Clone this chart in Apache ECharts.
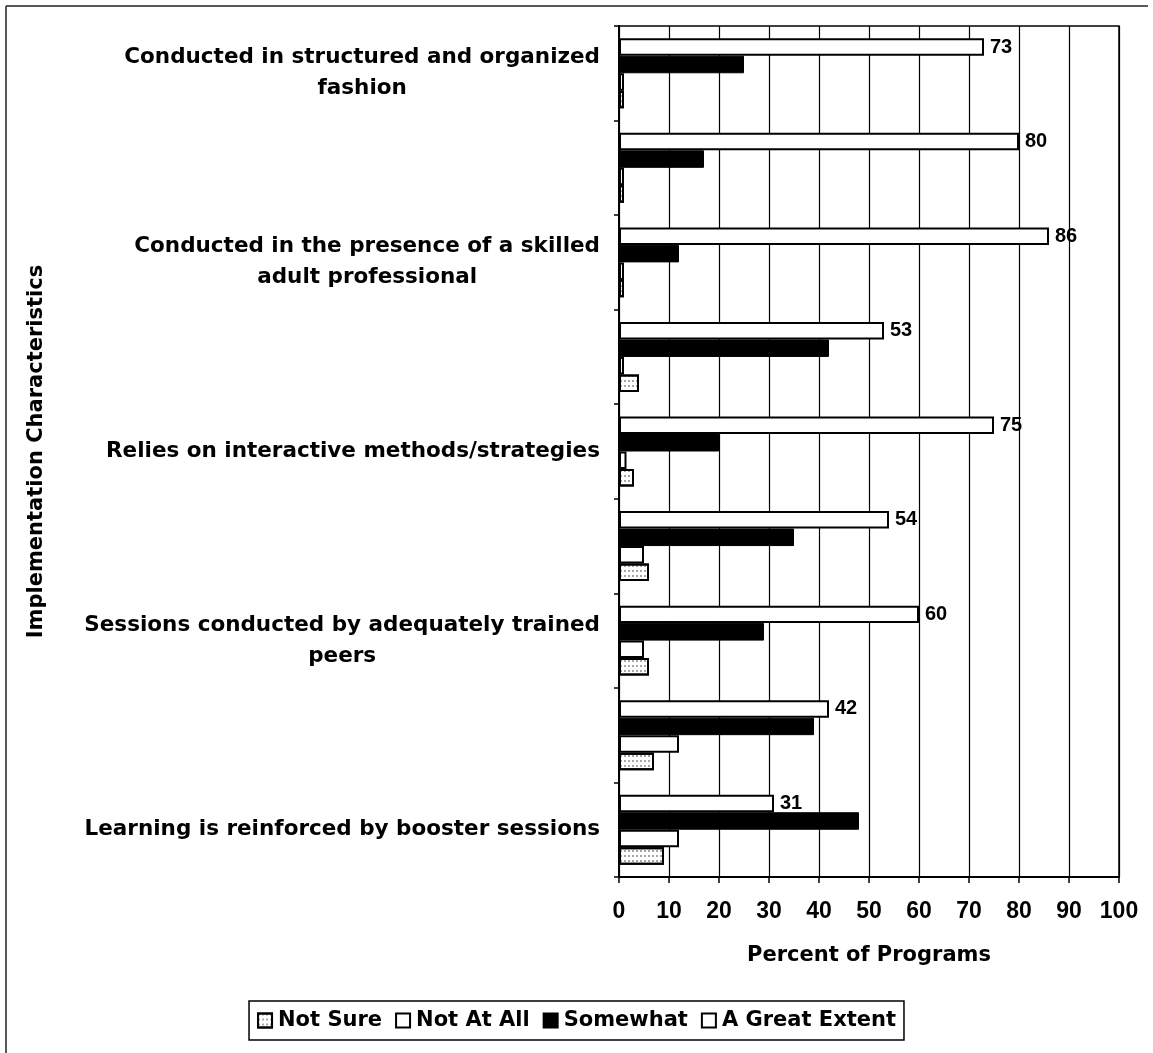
<!DOCTYPE html>
<html>
<head>
<meta charset="utf-8">
<script src="https://cdn.jsdelivr.net/npm/echarts@6/dist/echarts.min.js"></script>
<style>html,body{margin:0;padding:0;background:#fff}#c{width:1153px;height:1053px}</style>
</head>
<body>
<div id="c"></div>
<script>
const categories = [
  'Conducted in structured and organized\nfashion',
  '',
  'Conducted in the presence of a skilled\nadult professional',
  '',
  'Relies on interactive methods/strategies',
  '',
  'Sessions conducted by adequately trained\npeers',
  '',
  'Learning is reinforced by booster sessions'
];
const greatExtent = [73, 80, 86, 53, 75, 54, 60, 42, 31];
const somewhat = [25, 17, 12, 42, 20, 35, 29, 39, 48];
const notAtAll = [1, 1, 1, 1, 1.5, 5, 5, 12, 12];
const notSure = [1, 1, 1, 4, 3, 6, 6, 7, 9];
const xTicks = { min: 0, max: 100, interval: 10 };
const legendOrder = ['Not Sure', 'Not At All', 'Somewhat', 'A Great Extent'];

const WIDE = 'DejaVu Sans';
const ARIAL = 'Liberation Sans';

const chart = echarts.init(document.getElementById('c'), null, { renderer: 'canvas' });
const whiteBar = { color: '#ffffff', borderColor: '#000', borderWidth: 2 };
chart.setOption({
  animation: false,
  backgroundColor: '#ffffff',
  graphic: [
    { type: 'line', shape: { x1: 6, y1: 6, x2: 1148, y2: 6 }, style: { stroke: '#222', lineWidth: 1.5 } },
    { type: 'line', shape: { x1: 6, y1: 6, x2: 6, y2: 1053 }, style: { stroke: '#222', lineWidth: 1.5 } }
  ],
  grid: { left: 619, right: 34, top: 26, bottom: 176, show: true, borderColor: '#000', borderWidth: 1.5, backgroundColor: 'transparent' },
  legend: {
    data: legendOrder,
    icon: 'rect',
    left: 'center',
    bottom: 13,
    orient: 'horizontal',
    borderColor: '#000',
    borderWidth: 1.5,
    padding: [9, 8, 9, 8],
    itemGap: 13,
    itemWidth: 14,
    itemHeight: 14,
    textStyle: { fontFamily: WIDE, fontWeight: 'bold', fontSize: 21, color: '#000', padding: [0, 0, 0, 1] }
  },
  xAxis: {
    type: 'value',
    min: xTicks.min, max: xTicks.max, interval: xTicks.interval,
    name: 'Percent of Programs',
    nameLocation: 'middle',
    nameGap: 68,
    nameTextStyle: { fontFamily: WIDE, fontWeight: 'bold', fontSize: 21, color: '#000' },
    axisLine: { show: true, lineStyle: { color: '#000', width: 2 } },
    axisTick: { show: true, length: 6, lineStyle: { color: '#000', width: 1.5 } },
    axisLabel: { margin: 23, fontFamily: ARIAL, fontWeight: 'bold', fontSize: 23, color: '#000' },
    splitLine: { show: true, lineStyle: { color: '#000', width: 1.2 } }
  },
  yAxis: {
    type: 'category',
    inverse: true,
    data: categories,
    name: 'Implementation Characteristics',
    nameLocation: 'middle',
    nameGap: 572,
    nameRotate: 90,
    nameTextStyle: { fontFamily: WIDE, fontWeight: 'bold', fontSize: 21, color: '#000' },
    axisLine: { show: true, lineStyle: { color: '#000', width: 2 } },
    axisTick: { show: true, length: 5, alignWithLabel: false, lineStyle: { color: '#000', width: 1.5 } },
    axisLabel: {
      interval: 0,
      margin: 19,
      formatter: function (v) {
        if (!v) return '';
        return v.split('\n').map(function (s) { return '{c|' + s + '}'; }).join('\n');
      },
      rich: { c: { align: 'center', fontFamily: WIDE, fontWeight: 'bold', fontSize: 21.5, lineHeight: 31, color: '#000' } }
    },
    splitLine: { show: false }
  },
  series: [
    {
      name: 'A Great Extent', type: 'bar', data: greatExtent,
      barGap: '0%', barCategoryGap: '26%',
      itemStyle: whiteBar,
      label: { show: true, position: 'right', distance: 6, fontFamily: ARIAL, fontWeight: 'bold', fontSize: 20, color: '#000' }
    },
    {
      name: 'Somewhat', type: 'bar', data: somewhat,
      barGap: '0%', barCategoryGap: '26%',
      itemStyle: { color: '#000', borderColor: '#000', borderWidth: 1 }
    },
    {
      name: 'Not At All', type: 'bar', data: notAtAll,
      barGap: '0%', barCategoryGap: '26%',
      itemStyle: whiteBar
    },
    {
      name: 'Not Sure', type: 'bar', data: notSure,
      barGap: '0%', barCategoryGap: '26%',
      itemStyle: {
        color: '#ffffff', borderColor: '#000', borderWidth: 2,
        decal: { symbol: 'rect', symbolSize: 1, color: 'rgba(0,0,0,0.35)', dashArrayX: [2, 2], dashArrayY: [2, 3], rotation: 0 }
      }
    }
  ]
});
</script>
</body>
</html>
